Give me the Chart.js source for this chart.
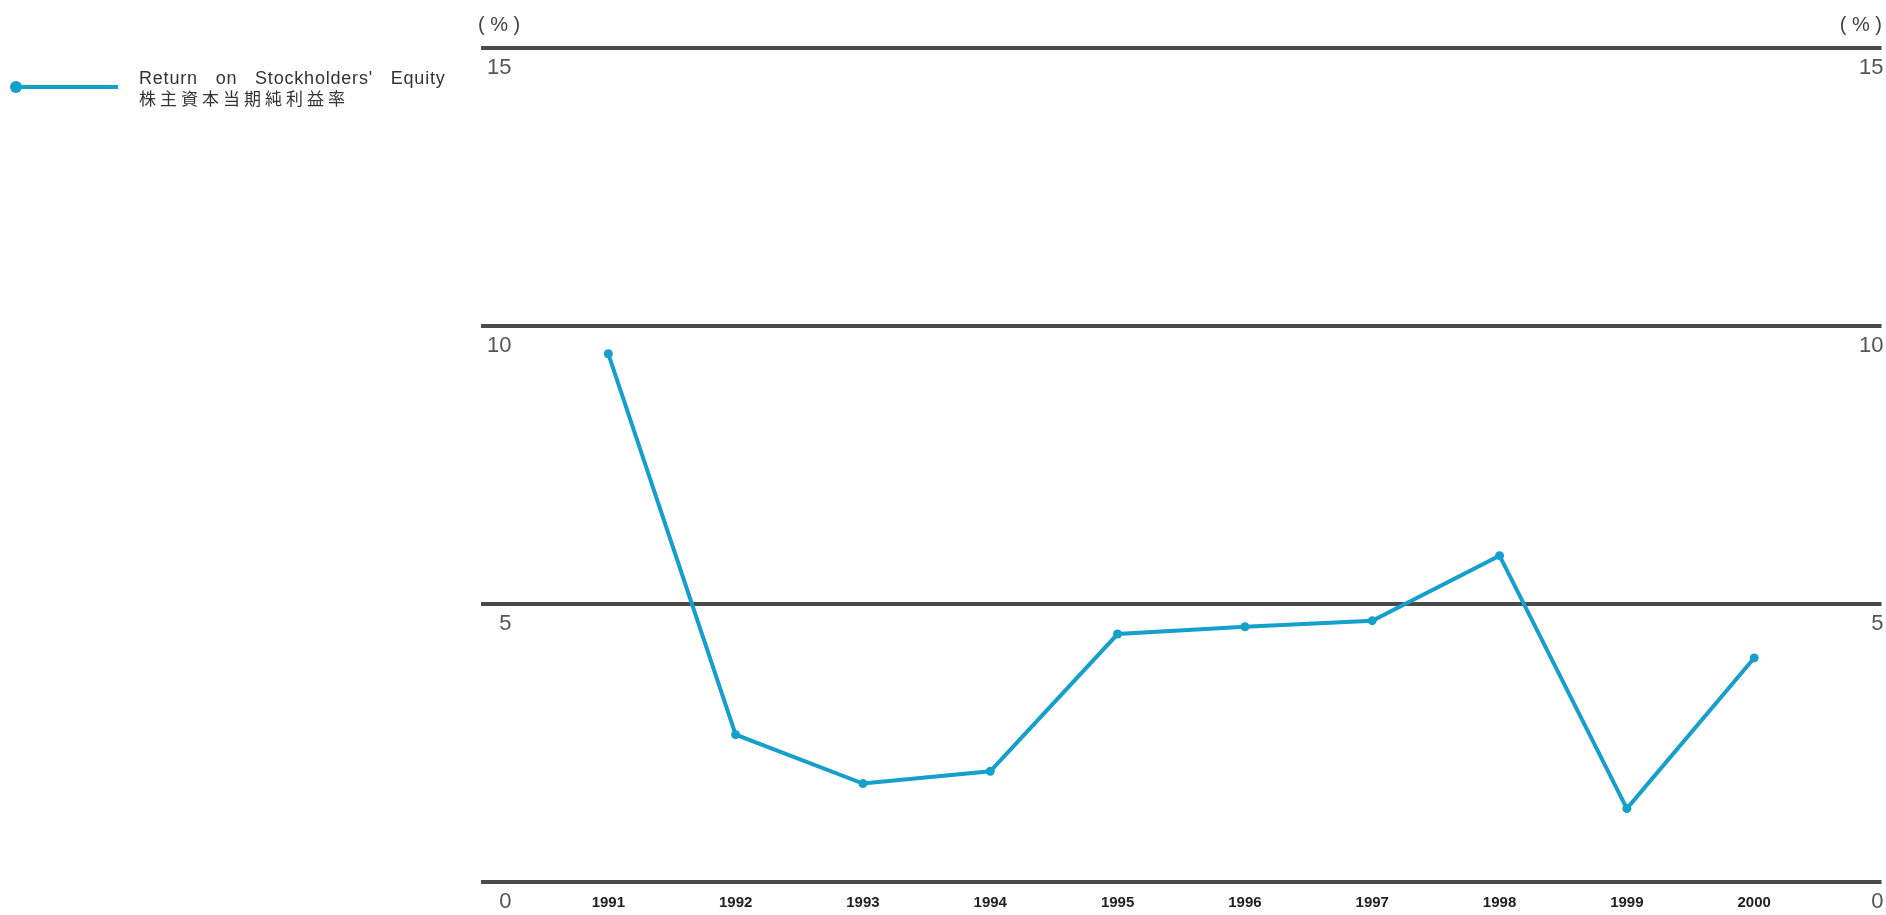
<!DOCTYPE html>
<html>
<head>
<meta charset="utf-8">
<script src="https://cdn.jsdelivr.net/npm/chart.js@4/dist/chart.umd.min.js"></script>
<style>
  html, body { margin: 0; padding: 0; background: #fff; }
  #wrap { position: relative; width: 1886px; height: 915px; }
  #chart { position: absolute; left: 0; top: 0; }
  .unit { position: absolute; top: 13px; font: 20px "Liberation Sans", sans-serif; color: #444; white-space: pre; }
  #legend { position: absolute; left: 0; top: 66px; }
  #legend .swatch { position: absolute; left: 14px; top: 19px; width: 104px; height: 4px; background: #159fcb; }
  #legend .dot { position: absolute; left: 10px; top: 15px; width: 12px; height: 12px; border-radius: 50%; background: #159fcb; }
  #legend .text { position: absolute; left: 139px; top: 2px; white-space: nowrap; color: #333; }
  #legend .en { font: 18px "Liberation Sans", sans-serif; letter-spacing: 0.8px; word-spacing: 12px; line-height: 20px; }
  #legend .ja { font: 17px "Noto Sans CJK JP", sans-serif; letter-spacing: 4px; line-height: 20px; }
</style>
</head>
<body>
<div id="wrap">
  <canvas id="chart" width="1886" height="915"></canvas>
  <div class="unit" style="left:478px;">( % )</div>
  <div class="unit" style="right:4px;">( % )</div>
  <div id="legend">
    <div class="swatch"></div>
    <div class="dot"></div>
    <div class="text">
      <div class="en">Return on Stockholders' Equity</div>
      <div class="ja">株主資本当期純利益率</div>
    </div>
  </div>
</div>
<script>
// Return on Stockholders' Equity (%), fiscal years 1991-2000
var years = [1991, 1992, 1993, 1994, 1995, 1996, 1997, 1998, 1999, 2000];
var roeValues = [9.5, 2.65, 1.77, 1.99, 4.46, 4.59, 4.7, 5.87, 1.32, 4.03];
var yTicks = [0, 5, 10, 15];

var lineColor = '#159fcb';
var gridColor = '#4a4a4a';

var tickFont = { family: '"Liberation Sans Narrow", "Liberation Sans", sans-serif', size: 22 };

new Chart(document.getElementById('chart'), {
  type: 'line',
  data: {
    datasets: [{
      label: "Return on Stockholders' Equity",
      data: years.map(function (y, i) { return { x: y, y: roeValues[i] }; }),
      borderColor: lineColor,
      backgroundColor: lineColor,
      borderWidth: 4,
      pointRadius: 4.5,
      pointHoverRadius: 4.5,
      pointBorderWidth: 0,
      tension: 0,
      fill: false,
    }],
  },
  options: {
    responsive: false,
    animation: false,
    layout: { padding: { left: 469, right: 0, top: 48, bottom: -9 } },
    plugins: { legend: { display: false }, tooltip: { enabled: false } },
    scales: {
      x: {
        type: 'linear',
        min: 1990,
        max: 2001,
        afterBuildTicks: function (axis) { axis.ticks = years.map(function (v) { return { value: v }; }); },
        grid: { display: false, drawTicks: false },
        border: { display: false },
        ticks: {
          color: '#222',
          font: { family: '"Liberation Sans", sans-serif', size: 15, weight: 'bold' },
          padding: 12,
          autoSkip: false,
          maxRotation: 0,
          callback: function (v) { return String(v); },
        },
      },
      y: {
        position: 'left',
        min: 0,
        max: 15,
        afterBuildTicks: function (axis) { axis.ticks = yTicks.map(function (v) { return { value: v }; }); },
        grid: { color: gridColor, lineWidth: 4, drawTicks: false },
        border: { display: false },
        ticks: {
          mirror: true,
          crossAlign: 'far',
          padding: 6,
          labelOffset: 20,
          color: '#555',
          font: tickFont,
        },
      },
      y2: {
        position: 'right',
        min: 0,
        max: 15,
        afterBuildTicks: function (axis) { axis.ticks = yTicks.map(function (v) { return { value: v }; }); },
        grid: { display: false, drawTicks: false },
        border: { display: false },
        ticks: {
          mirror: true,
          padding: 2,
          labelOffset: 20,
          color: '#555',
          font: tickFont,
        },
      },
    },
  },
});
</script>
</body>
</html>
